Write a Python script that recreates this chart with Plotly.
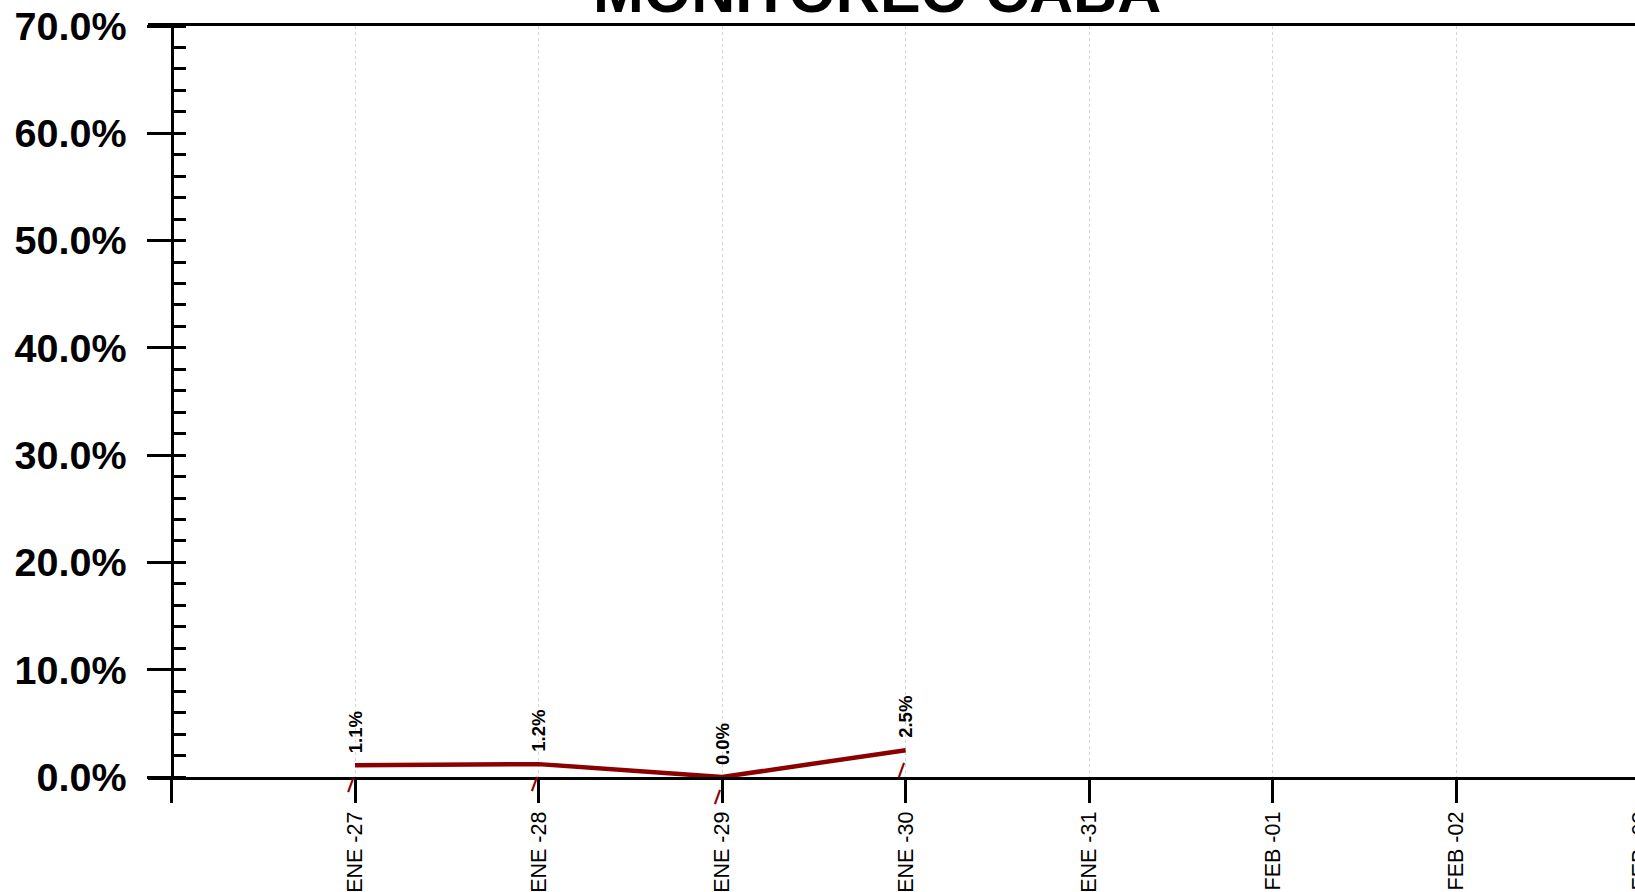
import pandas as pd
import plotly.graph_objects as go

# ---- data ----
fechas = ["2021-01-27", "2021-01-28", "2021-01-29", "2021-01-30"]
positividad = [1.1, 1.2, 0.0, 2.5]

tick_fechas = ["2021-01-26", "2021-01-27", "2021-01-28", "2021-01-29", "2021-01-30",
               "2021-01-31", "2021-02-01", "2021-02-02", "2021-02-03"]
tick_textos = ["", "ENE -27", "ENE -28", "ENE -29", "ENE -30",
               "ENE -31", "FEB -01", "FEB -02", "FEB -03"]

titulo = "MONITOREO CABA"

# ---- layout geometry (page margin removed, figure at 0,0) ----
W, H = 1648, 892
ML, MR, MT, MB = 148, 0, 26, 115
plot_w = W - ML - MR
pad_px = 23.5      # y axis inset from plot-area left
ext_px = 8.2       # plot extends past last tick
first_tick = pd.Timestamp(tick_fechas[0])
last_tick = pd.Timestamp(tick_fechas[-1])
n_days = (last_tick - first_tick) / pd.Timedelta(days=1)
px_per_day = (plot_w - pad_px - ext_px) / n_days
range_start = first_tick - pd.Timedelta(days=pad_px / px_per_day)
range_end = last_tick + pd.Timedelta(days=ext_px / px_per_day)

FONT = "Liberation Sans, Arial, sans-serif"
RED = "#8B0000"

fig = go.Figure()
fig.add_trace(go.Scatter(
    x=fechas, y=positividad, mode="lines",
    line=dict(color=RED, width=4.5),
    hoverinfo="skip", showlegend=False,
))

annotations = []
for f, v in zip(fechas, positividad):
    annotations.append(dict(
        x=f, y=v, xref="x", yref="y", text=f"{v:.1f}%", textangle=-90,
        showarrow=False, xanchor="center", yanchor="bottom", yshift=10,
        font=dict(family=FONT, size=18.5, color="black", weight="bold"),
    ))
    annotations.append(dict(
        x=f, y=v, xref="x", yref="y", text="|", textangle=20,
        showarrow=False, xanchor="center", yanchor="middle", xshift=-4, yshift=-18,
        font=dict(family=FONT, size=16, color=RED, weight="bold"),
    ))

annotations.append(dict(
    x=(877 - ML) / plot_w, y=1, xref="paper", yref="paper", text=titulo,
    showarrow=False, xanchor="center", yanchor="bottom", yshift=-1,
    font=dict(family=FONT, size=61, color="black", weight="bold"),
))

fig.update_layout(
    width=W, height=H,
    margin=dict(l=ML, r=MR, t=MT, b=MB, pad=0, autoexpand=False),
    paper_bgcolor="white", plot_bgcolor="white",
    showlegend=False,
    annotations=annotations,
    xaxis=dict(
        type="date",
        range=[range_start, range_end],
        tickmode="array", tickvals=tick_fechas, ticktext=tick_textos,
        tickangle=-90,
        tickfont=dict(family=FONT, size=21.5, color="black"),
        ticks="outside", ticklen=23, tickwidth=3, tickcolor="black",
        ticklabelstandoff=0, ticklabeloverflow="allow",
        showline=True, linewidth=3, linecolor="black", mirror=True,
        showgrid=True, gridcolor="#d4d4d4", gridwidth=1, griddash="dot",
        zeroline=False, automargin=False,
    ),
    yaxis=dict(
        range=[0, 70], anchor="free", position=pad_px / plot_w,
        tickmode="linear", tick0=0, dtick=10,
        tickformat=".1f", ticksuffix="%",
        tickfont=dict(family=FONT, size=39.5, color="black", weight="bold"),
        ticks="outside", ticklen=24, tickwidth=3, tickcolor="black",
        ticklabelstandoff=12, ticklabeloverflow="allow",
        minor=dict(dtick=2, ticks="inside", ticklen=12, tickwidth=3,
                   tickcolor="black", showgrid=False),
        showline=True, linewidth=3, linecolor="black",
        showgrid=False, zeroline=False, automargin=False,
    ),
)

fig.write_html(
    "out.html",
    config={"displayModeBar": False},
    post_script="document.body.style.margin='0';document.body.style.overflow='hidden';",
)
